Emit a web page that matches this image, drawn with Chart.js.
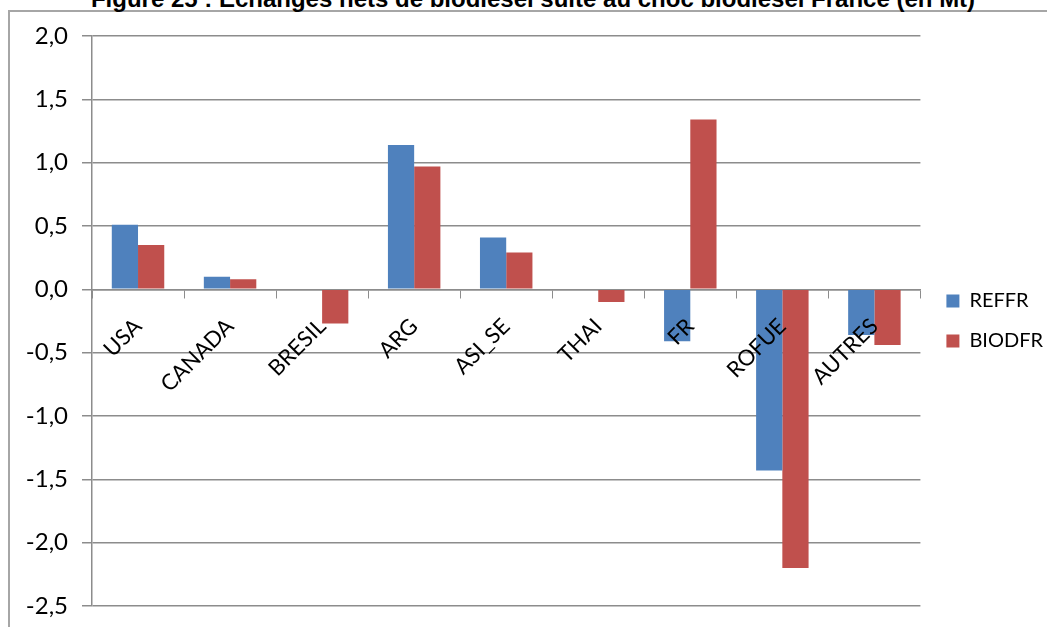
<!DOCTYPE html>
<html>
<head>
<meta charset="utf-8">
<script src="https://cdn.jsdelivr.net/npm/chart.js@4.4.1/dist/chart.umd.min.js"></script>
<style>
  html, body { margin: 0; padding: 0; background: #fff; overflow: hidden; }
  #wrap { position: relative; width: 1047px; height: 627px; overflow: hidden; }
  #frame { position: absolute; left: 8px; top: 10px; right: -4px; bottom: -4px;
           border-left: 2px solid #a6a6a6; border-top: 2px solid #a6a6a6; }
  #title { position: absolute; left: 0; width: 1066px; top: -13px; text-align: center;
           font: bold 24px "Liberation Sans", Arial, sans-serif; line-height: 24px; color: #000; white-space: nowrap; }
  canvas { position: absolute; left: 0; top: 0; }
</style>
</head>
<body>
<div id="wrap">
  <div id="frame"></div>
  <div id="title">Figure 25 : Echanges nets de biodiesel suite au choc biodiesel France (en Mt)</div>
  <canvas id="chart" width="1047" height="627"></canvas>
</div>
<script>
const categories = ['USA', 'CANADA', 'BRESIL', 'ARG', 'ASI_SE', 'THAI', 'FR', 'ROFUE', 'AUTRES'];
const reffr  = [0.51, 0.10, 0.00, 1.14, 0.41, 0.00, -0.41, -1.43, -0.36];
const biodfr = [0.35, 0.08, -0.27, 0.97, 0.29, -0.10, 1.34, -2.20, -0.44];
const yTickLabels = ['-2,5', '-2,0', '-1,5', '-1,0', '-0,5', '0,0', '0,5', '1,0', '1,5', '2,0'];

const gridGrey = '#8c8c8c';

// nudge the legend a little away from the plot, like the original
const legendShift = {
    id: 'legendShift',
    afterLayout(chart) {
        chart.legend.left += 6;
        chart.legend.right += 6;
    }
};

new Chart(document.getElementById('chart'), {
    type: 'bar',
    data: {
        labels: categories,
        datasets: [
            { label: 'REFFR', data: reffr, backgroundColor: '#4f81bd' },
            { label: 'BIODFR', data: biodfr, backgroundColor: '#c0504d' }
        ]
    },
    options: {
        responsive: false,
        animation: false,
        layout: { padding: { top: 36, bottom: 21, right: 0 } },
        datasets: { bar: { barPercentage: 1.0, categoryPercentage: 0.57 } },
        plugins: {
            title: { display: false },
            tooltip: { enabled: false },
            legend: {
                position: 'right',
                labels: {
                    boxWidth: 13,
                    boxHeight: 13,
                    padding: 20,
                    color: '#000',
                    font: { family: 'Lato', size: 20 }
                }
            }
        },
        scales: {
            x: {
                position: { y: 0 },
                offset: true,
                grid: { display: true, drawOnChartArea: false, drawTicks: true, tickLength: 8, color: gridGrey, offset: true },
                border: { display: true, color: gridGrey, width: 1.5 },
                ticks: {
                    z: 1,
                    autoSkip: false,
                    maxRotation: 45,
                    minRotation: 45,
                    padding: 16,
                    color: '#000',
                    font: { family: 'Lato', size: 22 }
                }
            },
            y: {
                min: -2.5,
                max: 2,
                afterFit: (scale) => {
                    scale.width = 92;
                    scale.paddingTop = 0;
                    scale.paddingBottom = 0;
                },
                grid: { color: gridGrey, lineWidth: 1.5, tickLength: 10 },
                border: { display: true, color: gridGrey, width: 1.5 },
                ticks: {
                    stepSize: 0.5,
                    padding: 14,
                    color: '#000',
                    font: { family: 'Lato', size: 24 },
                    callback: (v, i) => yTickLabels[i]
                }
            }
        }
    },
    plugins: [legendShift]
});
</script>
</body>
</html>
